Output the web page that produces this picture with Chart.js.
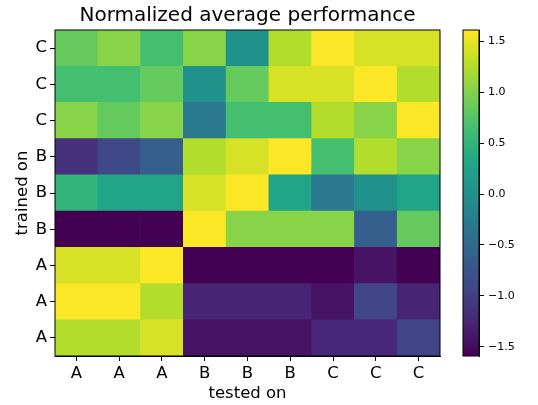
<!DOCTYPE html>
<html>
<head>
    <title>Normalized average performance</title>
    <style>
        body { margin: 0; background: #fff; }
        #wrap { position: relative; width: 538px; height: 405px; }
        canvas { position: absolute; left: 0; top: 0; }
    </style>
</head>
<body>
    <div id="wrap">
        <canvas id="heat" width="538" height="405"></canvas>
        <canvas id="cbar" width="538" height="405"></canvas>
    </div>

    <script src="https://cdn.jsdelivr.net/npm/chart.js"></script>
    <script>
        // column / row labels
        const testedOn = ['A', 'A', 'A', 'B', 'B', 'B', 'C', 'C', 'C'];
        const trainedOn = ['A', 'A', 'A', 'B', 'B', 'B', 'C', 'C', 'C']; // bottom to top

        // one array per "trained on" row, bottom to top
        const rowA1 = [1.24, 1.24, 1.42, -1.43, -1.43, -1.43, -1.24, -1.24, -0.95];
        const rowA2 = [1.60, 1.60, 1.24, -1.27, -1.27, -1.27, -1.43, -0.93, -1.27];
        const rowA3 = [1.42, 1.42, 1.60, -1.59, -1.59, -1.59, -1.59, -1.43, -1.59];
        const rowB1 = [-1.59, -1.59, -1.59, 1.60, 1.03, 1.03, 1.03, -0.63, 0.84];
        const rowB2 = [0.49, 0.27, 0.27, 1.42, 1.60, 0.27, -0.28, 0.01, 0.27];
        const rowB3 = [-1.14, -0.89, -0.63, 1.24, 1.42, 1.60, 0.65, 1.24, 1.03];
        const rowC1 = [1.03, 0.84, 1.03, -0.28, 0.65, 0.65, 1.24, 1.03, 1.60];
        const rowC2 = [0.65, 0.65, 0.84, 0.01, 0.84, 1.42, 1.42, 1.60, 1.24];
        const rowC3 = [0.84, 1.03, 0.65, 1.03, 0.01, 1.24, 1.60, 1.42, 1.42];
        const rows = [rowA1, rowA2, rowA3, rowB1, rowB2, rowB3, rowC1, rowC2, rowC3];

        // colour scale
        const cbMin = -1.59;
        const cbMax = 1.61;
        const cbTicks = [-1.5, -1.0, -0.5, 0.0, 0.5, 1.0, 1.5];

        const viridis = ['#440154', '#482475', '#414487', '#355f8d', '#2a788e', '#21918c',
                         '#22a884', '#44bf70', '#7ad151', '#bddf26', '#fde725'];

        function hexToRgb(h) {
            return [parseInt(h.slice(1, 3), 16), parseInt(h.slice(3, 5), 16), parseInt(h.slice(5, 7), 16)];
        }
        function colorFor(v) {
            let t = (v - cbMin) / (cbMax - cbMin);
            t = Math.max(0, Math.min(1, t));
            const pos = t * (viridis.length - 1);
            const i = Math.min(Math.floor(pos), viridis.length - 2);
            const f = pos - i;
            const a = hexToRgb(viridis[i]), b = hexToRgb(viridis[i + 1]);
            const c = a.map((x, k) => Math.round(x + (b[k] - x) * f));
            return 'rgb(' + c.join(',') + ')';
        }

        const font = 'DejaVu Sans';

        // рамка вокруг области графика
        const frame = {
            id: 'frame',
            afterDatasetsDraw(chart) {
                const a = chart.chartArea, c = chart.ctx;
                c.save();
                c.strokeStyle = '#000';
                c.lineWidth = 1;
                c.strokeRect(a.left, a.top, a.right - a.left, a.bottom - a.top);
                c.restore();
            }
        };

        const heatDatasets = rows.map((row, r) => ({
            label: trainedOn[r],
            data: row.map(() => 1),
            backgroundColor: row.map(colorFor),
            borderWidth: 0,
            barPercentage: 1,
            categoryPercentage: 1
        }));

        new Chart(document.getElementById('heat'), {
            type: 'bar',
            data: { labels: testedOn, datasets: heatDatasets },
            plugins: [frame],
            options: {
                responsive: false,
                animation: false,
                layout: { padding: { left: 8.5, right: 98, top: 0, bottom: 0 } },
                plugins: {
                    legend: { display: false },
                    tooltip: { enabled: false },
                    title: {
                        display: true,
                        fullSize: false,
                        text: 'Normalized average performance',
                        color: '#000',
                        font: { family: font, size: 20, weight: 'normal' },
                        padding: { top: 4, bottom: 2 }
                    }
                },
                scales: {
                    x: {
                        stacked: true,
                        grid: { offset: false, drawOnChartArea: false, tickLength: 5, color: '#000' },
                        border: { display: true, color: '#000' },
                        ticks: { color: '#000', font: { family: font, size: 16.5 }, padding: 3, maxRotation: 0 },
                        title: {
                            display: true, text: 'tested on', color: '#000',
                            font: { family: font, size: 16.5 }, padding: { top: 2, bottom: 1 }
                        },
                        afterFit(scale) { scale.height = 49; }
                    },
                    y: {
                        stacked: true,
                        min: 0,
                        max: trainedOn.length,
                        afterBuildTicks(scale) {
                            scale.ticks = trainedOn.map((_, i) => ({ value: i + 0.5 }));
                        },
                        grid: { drawOnChartArea: false, tickLength: 5, color: '#000' },
                        border: { display: true, color: '#000' },
                        ticks: {
                            color: '#000', font: { family: font, size: 16.5 }, padding: 3,
                            callback: (v, i) => trainedOn[i]
                        },
                        title: {
                            display: true, text: 'trained on', color: '#000',
                            font: { family: font, size: 16.5 }, padding: { top: 4, bottom: 4 }
                        },
                        afterFit(scale) { scale.width = 46.5; }
                    }
                }
            }
        });

        // colorbar
        function cbGradient(context) {
            const chart = context.chart;
            const area = chart.chartArea;
            if (!area) return viridis[5];
            const g = chart.ctx.createLinearGradient(0, area.bottom, 0, area.top);
            viridis.forEach((c, i) => g.addColorStop(i / (viridis.length - 1), c));
            return g;
        }

        new Chart(document.getElementById('cbar'), {
            type: 'bar',
            data: {
                labels: ['cb'],
                datasets: [{
                    data: [[cbMin, cbMax]],
                    backgroundColor: cbGradient,
                    borderWidth: 0,
                    barPercentage: 1,
                    categoryPercentage: 1
                }]
            },
            plugins: [frame],
            options: {
                responsive: false,
                animation: false,
                layout: { padding: { left: 463, right: 0, top: 30, bottom: 49 } },
                plugins: { legend: { display: false }, tooltip: { enabled: false } },
                scales: {
                    x: { display: false },
                    y: {
                        position: 'right',
                        min: cbMin,
                        max: cbMax,
                        afterBuildTicks(scale) {
                            scale.ticks = cbTicks.map(v => ({ value: v }));
                        },
                        grid: { drawOnChartArea: false, tickLength: 5, color: '#000' },
                        border: { display: true, color: '#000' },
                        ticks: {
                            color: '#000', font: { family: font, size: 11 }, padding: 4,
                            callback: v => v.toFixed(1).replace('-', '\u2212')
                        },
                        afterFit(scale) { scale.width = 59; }
                    }
                }
            }
        });
    </script>
</body>
</html>
